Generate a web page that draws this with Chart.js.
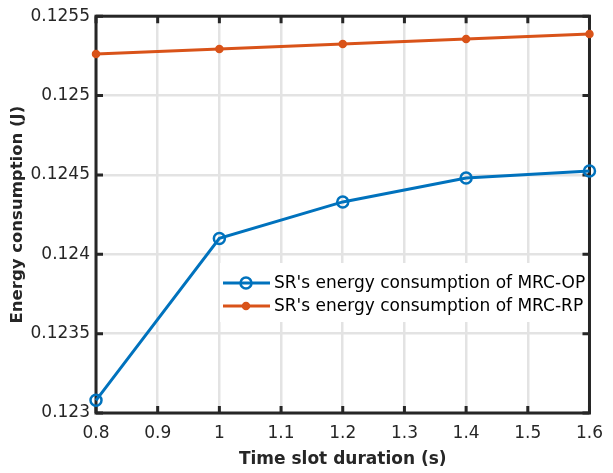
<!DOCTYPE html>
<html>
<head>
<meta charset="utf-8">
<script src="https://cdn.jsdelivr.net/npm/chart.js@4.4.0/dist/chart.umd.min.js"></script>
<style>
  body { margin: 0; background: #fff; }
  canvas { display: block; }
</style>
</head>
<body>
<canvas id="energyChart" width="613" height="473"></canvas>
<script>
// chart data
const slotDurations = [0.8, 1.0, 1.2, 1.4, 1.6];
const energyOP = [0.12308, 0.12410, 0.12433, 0.12448, 0.124525];
const energyRP = [0.125262, 0.125294, 0.125325, 0.125356, 0.125388];
const seriesNames = ["SR's energy consumption of MRC-OP", "SR's energy consumption of MRC-RP"];
const xTicks = [0.8, 0.9, 1.0, 1.1, 1.2, 1.3, 1.4, 1.5, 1.6];
const yTicks = [0.123, 0.1235, 0.124, 0.1245, 0.125, 0.1255];

const FONT = "'DejaVu Sans', sans-serif";
const AXIS_COLOR = '#262626';
const LEGEND_BOX = { x: 220, y: 263, w: 378, h: 59 };

// legend background, box around axes + inward tick marks (matlab style)
const axesBox = {
    id: 'axesBox',
    beforeDatasetsDraw(chart) {
        const { ctx, chartArea: a, scales } = chart;
        ctx.save();
        ctx.fillStyle = '#fff';
        ctx.fillRect(LEGEND_BOX.x, LEGEND_BOX.y, LEGEND_BOX.w, LEGEND_BOX.h);
        ctx.strokeStyle = AXIS_COLOR;
        ctx.lineWidth = 3;
        ctx.beginPath();
        xTicks.forEach(v => {
            const x = scales.x.getPixelForValue(v);
            ctx.moveTo(x, a.bottom); ctx.lineTo(x, a.bottom - 7);
            ctx.moveTo(x, a.top); ctx.lineTo(x, a.top + 7);
        });
        yTicks.forEach(v => {
            const y = scales.y.getPixelForValue(v);
            ctx.moveTo(a.left, y); ctx.lineTo(a.left + 7, y);
            ctx.moveTo(a.right, y); ctx.lineTo(a.right - 7, y);
        });
        ctx.stroke();
        ctx.strokeRect(a.left, a.top, a.right - a.left, a.bottom - a.top);
        ctx.restore();
    },
    afterDatasetsDraw(chart) {
        const { ctx } = chart;
        const lx = LEGEND_BOX.x, ly = LEGEND_BOX.y;
        ctx.save();
        chart.data.datasets.forEach((ds, i) => {
            const y = ly + 20 + i * 23;
            ctx.strokeStyle = ds.borderColor;
            ctx.lineWidth = 3;
            ctx.beginPath();
            ctx.moveTo(lx + 3, y); ctx.lineTo(lx + 50, y);
            ctx.stroke();
            ctx.beginPath();
            ctx.arc(lx + 26, y, ds.pointRadius, 0, Math.PI * 2);
            ctx.fillStyle = ds.pointBackgroundColor;
            ctx.fill();
            ctx.lineWidth = ds.pointBorderWidth;
            ctx.stroke();
            ctx.fillStyle = '#000';
            ctx.font = '17px ' + FONT;
            ctx.textBaseline = 'middle';
            ctx.fillText(ds.label, lx + 54, y + 1);
        });
        ctx.restore();
    }
};

const ctx = document.getElementById('energyChart').getContext('2d');
const energyChart = new Chart(ctx, {
    type: 'line',
    data: {
        datasets: [{
            label: seriesNames[0],
            data: slotDurations.map((x, i) => ({ x: x, y: energyOP[i] })),
            borderColor: '#0072BD',
            borderWidth: 3,
            pointRadius: 5.5,
            pointBorderWidth: 2.5,
            pointBackgroundColor: 'rgba(0,0,0,0)',
            pointBorderColor: '#0072BD',
            clip: false
        }, {
            label: seriesNames[1],
            data: slotDurations.map((x, i) => ({ x: x, y: energyRP[i] })),
            borderColor: '#D95319',
            borderWidth: 3,
            pointRadius: 3.5,
            pointBorderWidth: 1.5,
            pointBackgroundColor: '#D95319',
            pointBorderColor: '#D95319',
            clip: false
        }]
    },
    options: {
        responsive: false,
        animation: false,
        layout: { padding: { top: 14, right: 13, left: 0, bottom: 0 } },
        plugins: { legend: { display: false }, tooltip: { enabled: false } },
        scales: {
            x: {
                type: 'linear',
                min: 0.8,
                max: 1.6,
                afterBuildTicks: s => { s.ticks = xTicks.map(v => ({ value: v })); },
                afterFit: s => { s.height = 60; },
                grid: { color: '#e3e3e3', lineWidth: 2.5, drawTicks: false },
                border: { display: false },
                ticks: {
                    color: AXIS_COLOR,
                    font: { family: FONT, size: 17 },
                    padding: 10,
                    maxRotation: 0,
                    callback: v => String(Number(v.toFixed(1)))
                },
                title: {
                    display: true,
                    text: 'Time slot duration (s)',
                    color: AXIS_COLOR,
                    font: { family: FONT, size: 17, weight: 'bold' },
                    padding: { top: 0, bottom: 3 }
                }
            },
            y: {
                min: 0.123,
                max: 0.1255,
                afterBuildTicks: s => { s.ticks = yTicks.map(v => ({ value: v })); },
                afterFit: s => { s.width = 96; },
                grid: { color: '#e3e3e3', lineWidth: 2.5, drawTicks: false },
                border: { display: false },
                ticks: {
                    color: AXIS_COLOR,
                    font: { family: FONT, size: 17 },
                    padding: 6,
                    callback: v => String(Number(v.toFixed(4)))
                },
                title: {
                    display: true,
                    text: 'Energy consumption (J)',
                    color: AXIS_COLOR,
                    font: { family: FONT, size: 16.5, weight: 'bold' },
                    padding: { top: 8, bottom: 0 }
                }
            }
        }
    },
    plugins: [axesBox]
});
</script>
</body>
</html>
